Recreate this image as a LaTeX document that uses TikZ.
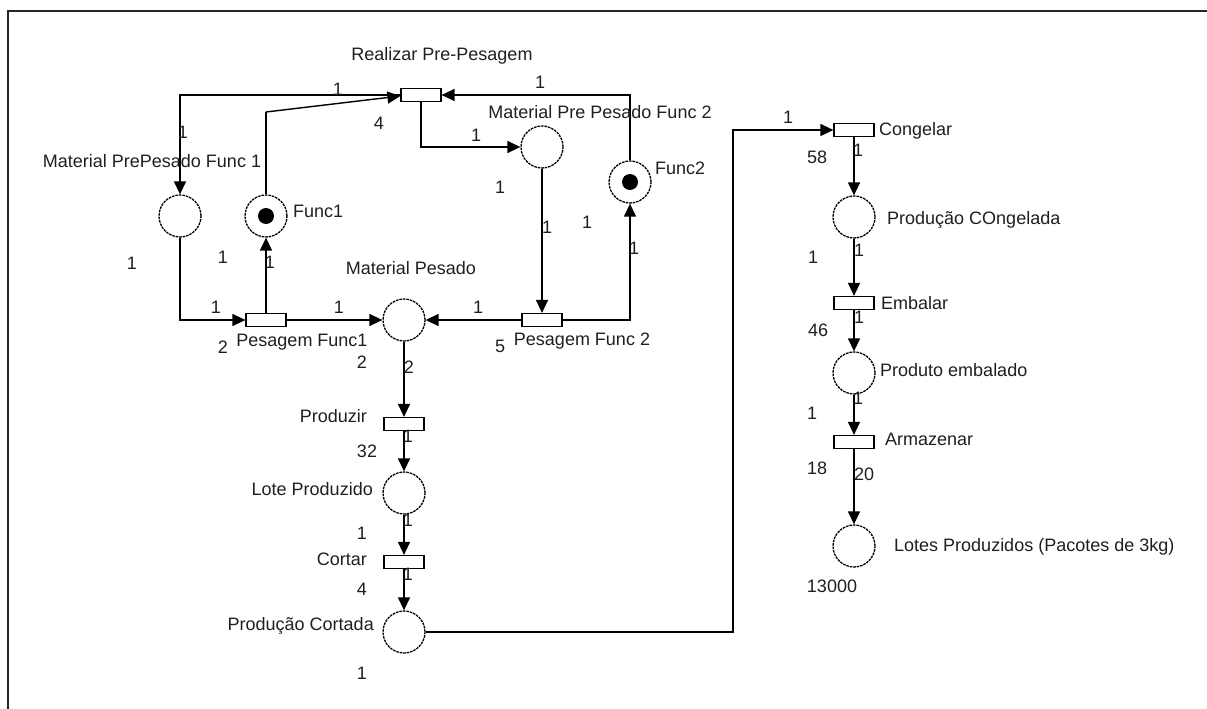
\documentclass[tikz,border=0pt]{standalone}
\usepackage{fontspec}
\setmainfont{Liberation Sans}
\usetikzlibrary{arrows.meta}
\begin{document}
\begin{tikzpicture}[x=1pt,y=-1pt,
  place/.style={circle,draw,line width=1.3pt,dash pattern=on 2.6pt off 0.9pt,minimum size=42pt,inner sep=0pt},
  trans/.style={rectangle,draw,line width=1.2pt,minimum width=40pt,minimum height=13pt,inner sep=0pt},
  token/.style={circle,fill=black,minimum size=16pt,inner sep=0pt},
  arc/.style={line width=1.4pt,-{Triangle[length=13pt,width=12pt]}},
  plain/.style={line width=1.4pt},
  lbl/.style={inner sep=0pt,text height=13pt,text depth=0pt,font=\fontsize{18}{20}\selectfont,text=black!88},
  num/.style={lbl}]
\useasboundingbox (0,0) rectangle (1207,709);
\draw[line width=2pt,black!85] (8,730) -- (8,11) -- (1230,11);

% places
\node[place] (mpf1) at (180,216) {};
\node[place] (f1) at (266,216) {};
\node[token] at (f1) {};
\node[place] (mppf2) at (542,147) {};
\node[place] (f2) at (630,182) {};
\node[token] at (f2) {};
\node[place] (mp) at (404,320) {};
\node[place] (lp) at (404,493) {};
\node[place] (pc) at (404,632) {};
\node[place] (pcg) at (854,217) {};
\node[place] (pe) at (854,373) {};
\node[place] (lotes) at (854,546) {};

% transitions
\node[trans] (rp) at (421,95) {};
\node[trans] (pf1) at (266,320) {};
\node[trans] (pf2) at (542,320) {};
\node[trans] (prod) at (404,424) {};
\node[trans] (cort) at (404,562) {};
\node[trans] (cong) at (854,130) {};
\node[trans] (emb) at (854,303) {};
\node[trans] (arm) at (854,442) {};

\coordinate (c1) at (266,112);
\coordinate (c2) at (733,632);

% arcs
\draw[arc] (rp.west) -| (mpf1.north);
\draw[plain] (f1.north) -- (c1);
\draw[arc] (c1) -- ([yshift=-1pt]rp.west);
\draw[arc] (f2.north) |- (rp.east);
\draw[arc] (rp.south) |- (mppf2.west);
\draw[arc] (mppf2.south) -- (pf2.north);
\draw[arc] (pf2.east) -| (f2.south);
\draw[arc] (pf2.west) -- (mp.east);
\draw[arc] (mpf1.south) |- (pf1.west);
\draw[arc] (pf1.north) -- (f1.south);
\draw[arc] (pf1.east) -- (mp.west);
\draw[arc] (mp.south) -- (prod.north);
\draw[arc] (prod.south) -- (lp.north);
\draw[arc] (lp.south) -- (cort.north);
\draw[arc] (cort.south) -- (pc.north);
\draw[arc] (pc.east) -- (c2) |- (cong.west);
\draw[arc] (cong.south) -- (pcg.north);
\draw[arc] (pcg.south) -- (emb.north);
\draw[arc] (emb.south) -- (pe.north);
\draw[arc] (pe.south) -- (arm.north);
\draw[arc] (arm.south) -- (lotes.north);

% names
\node[lbl] (t1) at (442,54) {Realizar Pre-Pesagem};
\node[lbl] (t2) at (152,161) {Material PrePesado Func 1};
\node[lbl,anchor=west] (t3) at (293,211) {Func1};
\node[lbl] (t4) at (600,112) {Material Pre Pesado Func 2};
\node[lbl,anchor=west] (t5) at (655,168) {Func2};
\node[lbl] (t6) at (411,268) {Material Pesado};
\node[lbl] (t7) at (302,340) {Pesagem Func1};
\node[lbl] (t8) at (582,339) {Pesagem Func 2};
\node[lbl,anchor=east] (t9) at (367,416) {Produzir};
\node[lbl,anchor=east] (t10) at (373,489) {Lote Produzido};
\node[lbl,anchor=east] (t11) at (367,559) {Cortar};
\node[lbl,anchor=east] (t12) at (374,624) {Produção Cortada};
\node[lbl,anchor=west] (t13) at (879,129) {Congelar};
\node[lbl,anchor=west] (t14) at (887,218) {Produção COngelada};
\node[lbl,anchor=west] (t15) at (881,303) {Embalar};
\node[lbl,anchor=west] (t16) at (880,370) {Produto embalado};
\node[lbl,anchor=west] (t17) at (885,439) {Armazenar};
\node[lbl,anchor=west] (t18) at (894,545) {Lotes Produzidos (Pacotes de 3kg)};
\node[lbl] (t19) at (832,586) {13000};

% numbers
\node[num] (n1) at (338,89) {1};
\node[num] (n2) at (379,123) {4};
\node[num] (n3) at (183,132) {1};
\node[num] (n4) at (540,82) {1};
\node[num] (n5) at (476,135) {1};
\node[num] (n6) at (500,187) {1};
\node[num] (n7) at (547,227) {1};
\node[num] (n8) at (587,222) {1};
\node[num] (n9) at (634,248) {1};
\node[num] (n10) at (132,263) {1};
\node[num] (n11) at (223,257) {1};
\node[num] (n12) at (270,262) {1};
\node[num] (n13) at (216,307) {1};
\node[num] (n14) at (339,307) {1};
\node[num] (n15) at (478,307) {1};
\node[num] (n16) at (223,347) {2};
\node[num] (n17) at (500,346) {5};
\node[num] (n18) at (362,362) {2};
\node[num] (n19) at (409,367) {2};
\node[num] (n20) at (408,436) {1};
\node[num] (n21) at (367,451) {32};
\node[num] (n22) at (408,520) {1};
\node[num] (n23) at (362,533) {1};
\node[num] (n24) at (408,574) {1};
\node[num] (n25) at (362,589) {4};
\node[num] (n26) at (362,673) {1};
\node[num] (n27) at (788,117) {1};
\node[num] (n28) at (858,150) {1};
\node[num] (n29) at (817,157) {58};
\node[num] (n30) at (859,250) {1};
\node[num] (n31) at (813,257) {1};
\node[num] (n32) at (859,317) {1};
\node[num] (n33) at (818,330) {46};
\node[num] (n34) at (858,398) {1};
\node[num] (n35) at (812,413) {1};
\node[num] (n36) at (864,474) {20};
\node[num] (n37) at (817,468) {18};
\end{tikzpicture}
\end{document}
